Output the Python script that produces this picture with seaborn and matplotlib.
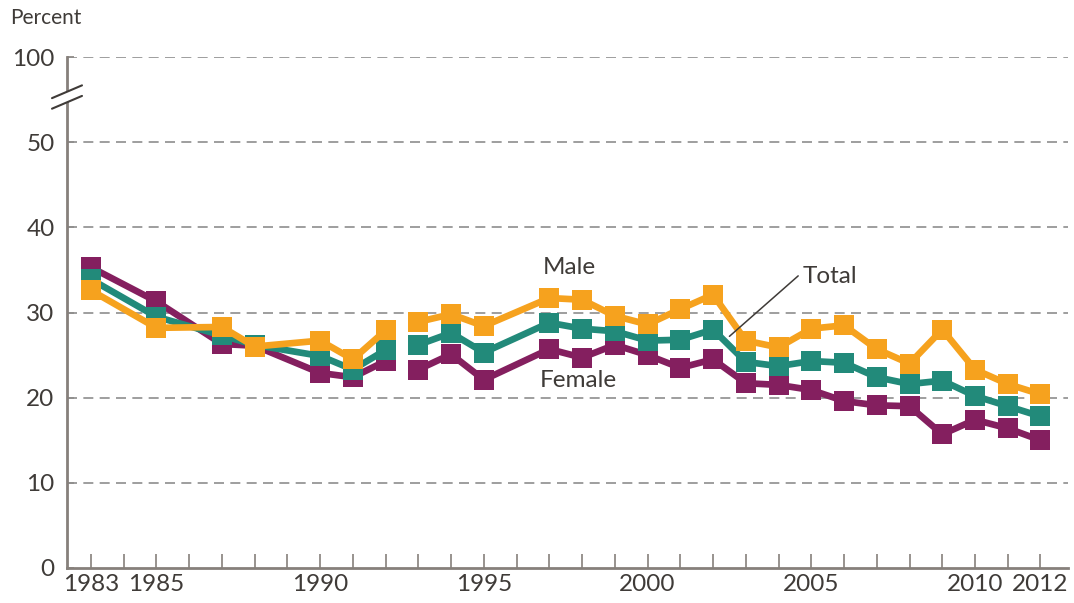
import numpy as np
import pandas as pd
import matplotlib
matplotlib.use("Agg")
import matplotlib.pyplot as plt
import matplotlib.transforms as mtransforms
from matplotlib.patches import Polygon
import seaborn as sns

# ---------------- data ----------------
years = [1983, 1985, 1987, 1988, 1990, 1991, 1992,
         1993, 1994, 1995, 1997, 1998, 1999, 2000, 2001, 2002,
         2003, 2004, 2005, 2006, 2007, 2008, 2009, 2010, 2011, 2012]
segment = ["1983-1992"] * 7 + ["1993-2012"] * 19
male = [32.6, 28.2, 28.3, 26.0, 26.7, 24.5, 27.9,
        28.9, 29.8, 28.4, 31.7, 31.5, 29.6, 28.6, 30.4, 32.1,
        26.7, 25.9, 28.1, 28.5, 25.7, 24.0, 28.0, 23.3, 21.6, 20.4]
total = [33.9, 29.5, 27.3, 26.2, 24.9, 23.3, 25.6,
         26.2, 27.6, 25.3, 28.8, 28.1, 27.8, 26.7, 26.8, 28.0,
         24.2, 23.7, 24.3, 24.1, 22.4, 21.6, 22.0, 20.2, 19.0, 17.8]
female = [35.3, 31.3, 26.3, 26.1, 22.9, 22.4, 24.3,
          23.3, 25.1, 22.1, 25.7, 24.7, 26.2, 25.0, 23.5, 24.5,
          21.7, 21.5, 20.9, 19.6, 19.1, 19.0, 15.7, 17.4, 16.4, 15.0]

series_names = ["Female", "Total", "Male"]
ytick_values = [0, 10, 20, 30, 40, 50, 60]          # 60 on the broken axis = 100
ytick_labels = ["0", "10", "20", "30", "40", "50", "100"]
xtick_labels = {1983: "1983", 1985: "1985", 1990: "1990", 1995: "1995",
                2000: "2000", 2005: "2005", 2010: "2010", 2012: "2012"}

colors = {"Male": "#F6A21E", "Total": "#228A7A", "Female": "#841F5F"}
text_color = "#3F3B38"
axis_color = "#86807B"

df = pd.concat([
    pd.DataFrame({"year": years, "value": vals, "series": name, "segment": segment})
    for name, vals in [("Male", male), ("Total", total), ("Female", female)]
])

# ---------------- figure ----------------
sns.set_theme(style="white")
plt.rcParams["font.family"] = ["Lato", "DejaVu Sans"]

fig = plt.figure(figsize=(10.74, 6.03), dpi=100)
ax = fig.add_axes([67 / 1074, 35 / 603, (1068 - 67) / 1074, (568 - 57) / 603])

for z, name in enumerate(series_names):
    sub = df[df["series"] == name]
    sns.lineplot(data=sub, x="year", y="value", units="segment", estimator=None,
                 color=colors[name], linewidth=4.8, marker="s", markersize=13.8,
                 markeredgewidth=0, ax=ax, zorder=3 + z, legend=False)

ax.set_xlim(1982.27, 2012.84)
ax.set_ylim(0, 60)
ax.set_xlabel("")
ax.set_ylabel("")

# grid
for y in ytick_values[1:]:
    ax.axhline(y, color="#8E8E8E", lw=1.2, ls=(0, (6, 3.8)), zorder=1)

# ticks
ax.set_yticks(ytick_values)
ax.set_yticklabels(ytick_labels)
all_years = list(range(1983, 2013))
ax.set_xticks(all_years)
ax.set_xticklabels([xtick_labels.get(y, "") for y in all_years])
ax.tick_params(axis="x", direction="in", length=10, width=1.2, color=axis_color,
               labelsize=17.5, labelcolor=text_color, pad=4, bottom=True)
ax.tick_params(axis="y", direction="in", length=5, width=1.2, color=axis_color,
               labelsize=17.5, labelcolor=text_color, pad=9, left=True)

for s in ["top", "right"]:
    ax.spines[s].set_visible(False)
for s in ["left", "bottom"]:
    ax.spines[s].set_color(axis_color)
    ax.spines[s].set_linewidth(2)
    ax.spines[s].set_zorder(6)

# axis break marks
trans = mtransforms.blended_transform_factory(ax.transAxes, ax.transData)
dx = 15 / 1001
y0, h, rise = 55.3, 0.62, 0.75
gap = Polygon([(-dx, y0 - h - rise), (dx, y0 - h + rise), (dx, y0 + h + rise), (-dx, y0 + h - rise)],
              closed=True, transform=trans, facecolor="white", edgecolor="none",
              clip_on=False, zorder=7)
ax.add_patch(gap)
for off in (-h, h):
    ax.plot([-dx, dx], [y0 + off - rise, y0 + off + rise], transform=trans,
            color="#3F3B38", lw=1.5, clip_on=False, zorder=8)

# labels
fig.text(10 / 1074, 1 - 18 / 603, "Percent", ha="left", va="center",
         fontsize=15, color=text_color)
ax.text(1997.6, 35.3, "Male", ha="center", va="center", fontsize=17.5, color=text_color)
ax.text(1997.9, 22.0, "Female", ha="center", va="center", fontsize=17.5, color=text_color)
ax.text(2004.75, 34.2, "Total", ha="left", va="center", fontsize=17.5, color=text_color)
ax.plot([2002.5, 2004.6], [27.2, 34.3], color="#3F3B38", lw=1.1, zorder=9)

fig.savefig("out.png", dpi=100)
